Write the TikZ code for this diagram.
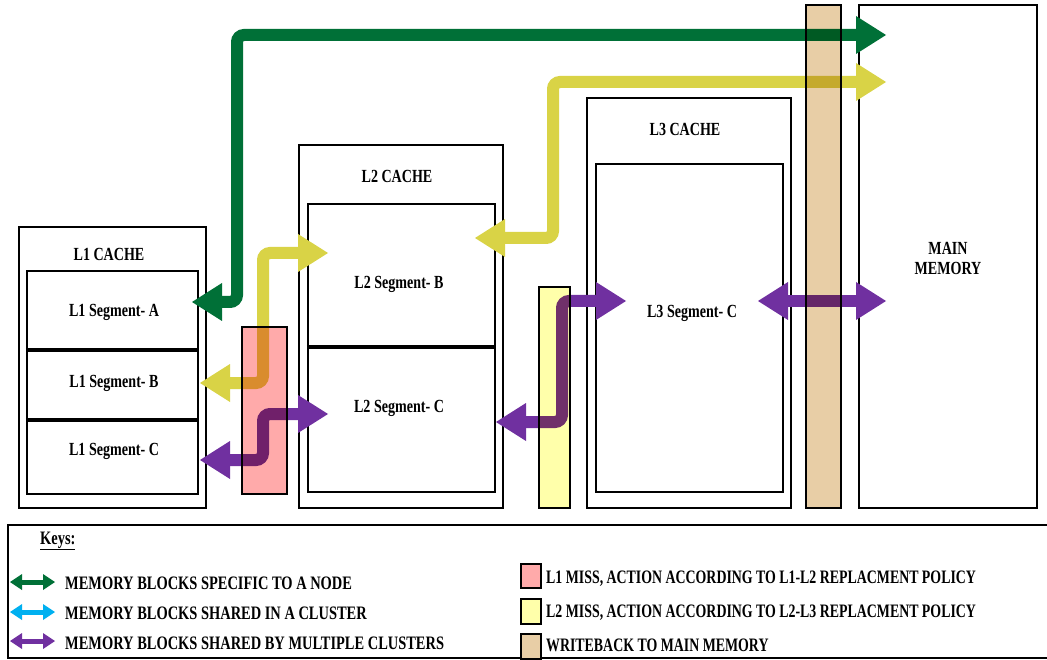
\documentclass[tikz,border=0pt]{standalone}
\usepackage{fontspec}
\usepackage{graphicx}
\setmainfont{Liberation Serif}
\usetikzlibrary{arrows.meta,fit}
\definecolor{cgreen}{RGB}{0,112,55}
\definecolor{cyel}{RGB}{217,211,70}
\definecolor{cpurp}{RGB}{112,48,160}
\definecolor{ccyan}{RGB}{0,176,240}
\definecolor{cpink}{RGB}{255,170,170}
\definecolor{cltyel}{RGB}{255,255,170}
\definecolor{ctan}{RGB}{232,206,166}
\newcommand{\narrowtxt}[1]{\scalebox{0.76}[1]{#1}}
\newcommand{\narrowertxt}[1]{\scalebox{0.73}[1]{#1}}
\begin{document}
\begin{tikzpicture}[x=1pt,y=-1pt,
  box/.style={draw, line width=2pt, inner sep=0pt},
  seg/.style={draw, line width=2.5pt, inner sep=0pt},
  sepline/.style={line width=4pt},
  band/.style={draw, line width=1.5pt, inner sep=0pt},
  lab/.style={font=\fontsize{18.5pt}{21pt}\selectfont\bfseries, inner sep=0pt, align=center},
  keytxt/.style={font=\fontsize{19pt}{21pt}\selectfont\bfseries, inner sep=0pt, anchor=west},
  fatboth/.style={line width=12pt, rounded corners=7pt, >={Triangle[length=30pt,width=38pt,line width=0pt]}, <->},
  keyarrow/.style={line width=5pt, >={Triangle[length=12pt,width=16pt,line width=0pt]}, <->},
  swatch/.style={draw, line width=1.5pt, inner sep=0pt}
]
\useasboundingbox (0,0) rectangle (1047,660);
\fill[white] (0,0) rectangle (1047,660);

% L1 cache
\node[box, fit={(19,227) (206,508)}] (l1) {};
\node[lab] (l1t) at (109,254) {\narrowtxt{L1 CACHE}};
\node[seg, fit={(27,271) (198,351)}] (l1a) {};
\node[seg, fit={(27,351) (198,421)}] (l1b) {};
\node[seg, fit={(27,421) (198,494)}] (l1c) {};
\draw[sepline] (l1b.north west) -- (l1b.north east);
\draw[sepline] (l1c.north west) -- (l1c.north east);
\node[lab] (l1at) at (114,312) {\narrowtxt{L1 Segment- A}};
\node[lab] (l1bt) at (114,383) {\narrowtxt{L1 Segment- B}};
\node[lab] (l1ct) at (114,451) {\narrowtxt{L1 Segment- C}};

% L2 cache
\node[box, fit={(299,145) (503,508)}] (l2) {};
\node[lab] (l2t) at (397,176) {\narrowtxt{L2 CACHE}};
\node[seg, fit={(308,204) (495,348)}] (l2b) {};
\node[seg, fit={(308,348) (495,492)}] (l2c) {};
\draw[sepline] (l2c.north west) -- (l2c.north east);
\node[lab] (l2bt) at (399,284) {\narrowtxt{L2 Segment- B}};
\node[lab] (l2ct) at (399,408) {\narrowtxt{L2 Segment- C}};

% L3 cache
\node[box, fit={(587,98) (791,508)}] (l3) {};
\node[lab] (l3t) at (685,129) {\narrowtxt{L3 CACHE}};
\node[seg, fit={(596,164) (783,492)}] (l3c) {};
\node[lab] (l3ct) at (692,313) {\narrowtxt{L3 Segment- C}};

% Main memory
\node[box, fit={(859,5) (1037,508)}] (mm) {};
\node[lab] (mmt) at (948,258) {\narrowtxt{MAIN}\\[-1pt]\narrowtxt{MEMORY}};

% arrow end points and bends
\coordinate (gA) at (192,302);
\coordinate (gB) at (237,35);
\coordinate (gM) at (886,35);
\coordinate (yA) at (475,238);
\coordinate (yB) at (553,82);
\coordinate (yM) at (886,82);
\coordinate (yL1) at (200,383);
\coordinate (yK) at (263,253);
\coordinate (yL2) at (328,253);
\coordinate (pL1) at (200,460);
\coordinate (pK) at (263,414);
\coordinate (pL2) at (328,414);
\coordinate (qL2) at (496,422);
\coordinate (qK) at (562,301);
\coordinate (qL3) at (626,301);
\coordinate (rL3) at (758,301);
\coordinate (rM) at (886,301);

\draw[fatboth, cgreen] (gA) -| (gB) -- (gM);
\draw[fatboth, cyel] (yA) -| (yB) -- (yM);
\draw[fatboth, cyel] (yL1) -| (yK) -- (yL2);
\draw[fatboth, cpurp] (pL1) -| (pK) -- (pL2);
\draw[fatboth, cpurp] (qL2) -| (qK) -- (qL3);
\draw[fatboth, cpurp] (rL3) -- (rM);

% miss / writeback bands
\begin{scope}[blend mode=multiply]
\node[band, fill=cpink, fit={(242,327) (287,494)}] (pinkband) {};
\node[band, fill=cltyel, fit={(539,287) (570,508)}] (yelband) {};
\node[band, fill=ctan, fit={(806,5) (841,508)}] (tanband) {};
\end{scope}

% legend
\node[box, fit={(8,525) (1060,658)}] (legend) {};
\node[keytxt] (keys) at (40,541) {\narrowtxt{\underline{Keys:}}};
\coordinate (k1a) at (10,582); \coordinate (k1b) at (55,582);
\coordinate (k2a) at (10,612); \coordinate (k2b) at (55,612);
\coordinate (k3a) at (10,641); \coordinate (k3b) at (55,641);
\draw[keyarrow, cgreen] (k1a) -- (k1b);
\draw[keyarrow, ccyan] (k2a) -- (k2b);
\draw[keyarrow, cpurp] (k3a) -- (k3b);
\node[keytxt] (kt1) at (65,583) {\narrowtxt{MEMORY BLOCKS SPECIFIC TO A NODE}};
\node[keytxt] (kt2) at (65,613) {\narrowtxt{MEMORY BLOCKS SHARED IN A CLUSTER}};
\node[keytxt] (kt3) at (65,643) {\narrowtxt{MEMORY BLOCKS SHARED BY MULTIPLE CLUSTERS}};

\node[swatch, fill=cpink, fit={(521,564) (541,588)}] (sw1) {};
\node[swatch, fill=cltyel, fit={(521,599) (541,624)}] (sw2) {};
\node[swatch, fill=ctan, fit={(521,634) (541,659)}] (sw3) {};
\node[keytxt] (st1) at (546,579) {\narrowertxt{L1 MISS, ACTION ACCORDING TO L1-L2 REPLACMENT POLICY}};
\node[keytxt] (st2) at (546,613) {\narrowertxt{L2 MISS, ACTION ACCORDING TO L2-L3 REPLACMENT POLICY}};
\node[keytxt] (st3) at (546,645) {\narrowertxt{WRITEBACK TO MAIN MEMORY}};
\end{tikzpicture}
\end{document}
